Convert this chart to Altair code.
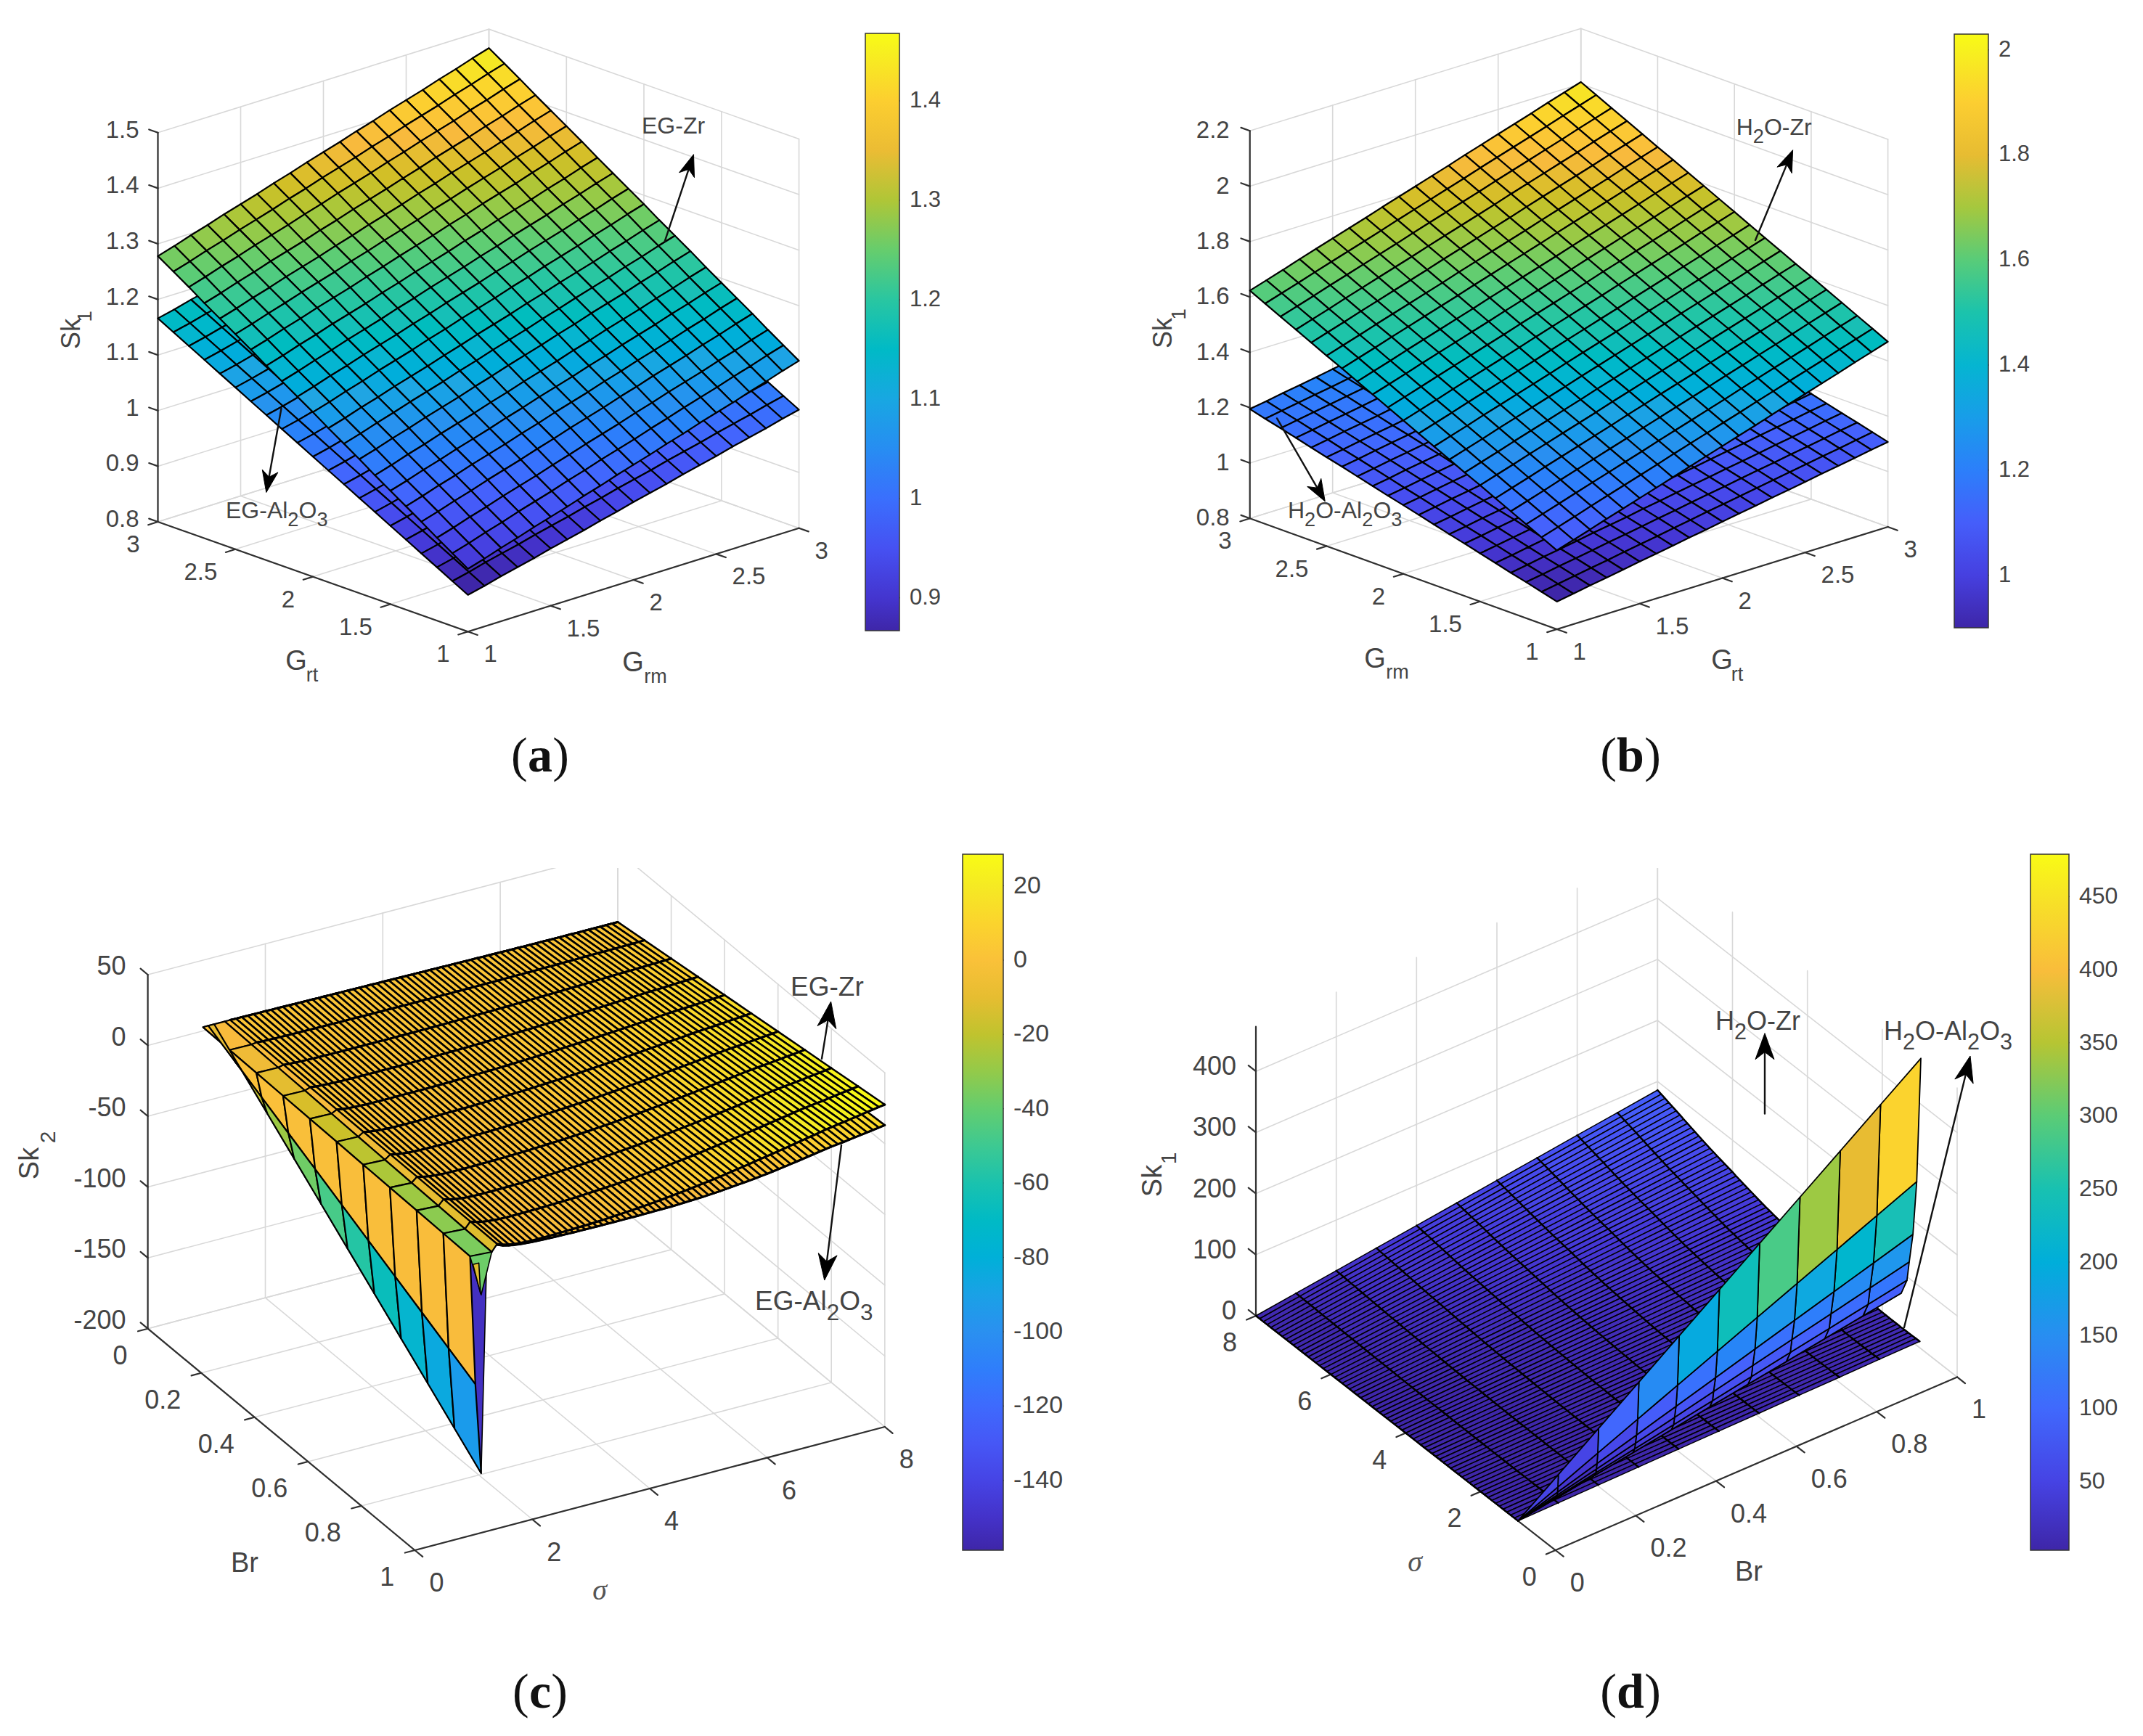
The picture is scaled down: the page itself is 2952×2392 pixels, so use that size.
import altair as alt

# ---------- colour map (MATLAB parula stops) ----------
PARULA_POS = [0, 4, 8, 12, 16, 20, 24, 28, 32, 36, 40, 44, 48, 52, 56, 60, 63]
PARULA = ["#3e26a8", "#4537d5", "#474df0", "#4563fd", "#327bfc", "#2b91ef", "#20a5e3", "#08b5d0", "#19bfb6",
          "#37c897", "#64cd6f", "#9dc943", "#d1bf27", "#f8ba3d", "#fccf30", "#f5e924", "#f9fb15"]

# ---------- panel (a) values ----------
A_ZR_GRT = [.913, .931, .949, .968, .986, 1.004, 1.022, 1.041, 1.059, 1.077, 1.096, 1.114, 1.132, 1.150, 1.169, 1.187, 1.205, 1.223, 1.242, 1.260, 1.278]
A_ZR_GRM = [.913, .922, .932, .941, .951, .960, .969, .979, .988, .998, 1.007, 1.016, 1.026, 1.035, 1.045, 1.054, 1.063, 1.073, 1.082, 1.092, 1.101]
A_AL_GRT = [.866, .881, .896, .911, .926, .941, .956, .971, .986, 1.001, 1.016, 1.031, 1.046, 1.061, 1.076, 1.091, 1.106, 1.121, 1.136, 1.151, 1.166]
A_AL_GRM = [.866, .873, .881, .888, .895, .903, .910, .917, .925, .932, .940, .947, .954, .962, .969, .976, .984, .991, .998, 1.006, 1.013]
# ---------- panel (b) values ----------
B_ZR_GRM = [1.085, 1.112, 1.139, 1.166, 1.193, 1.220, 1.246, 1.273, 1.300, 1.327, 1.354, 1.381, 1.408, 1.435, 1.462, 1.488, 1.515, 1.542, 1.569, 1.596, 1.623]
B_ZR_GRT = [1.085, 1.104, 1.123, 1.143, 1.162, 1.181, 1.200, 1.219, 1.239, 1.258, 1.277, 1.296, 1.315, 1.335, 1.354, 1.373, 1.392, 1.411, 1.431, 1.450, 1.469]
B_AL_GRM = [.900, .915, .930, .944, .959, .974, .989, 1.003, 1.018, 1.033, 1.048, 1.062, 1.077, 1.092, 1.107, 1.121, 1.136, 1.151, 1.166, 1.180, 1.195]
B_AL_GRT = [.900, .910, .921, .931, .941, .952, .962, .972, .983, .993, 1.004, 1.014, 1.024, 1.035, 1.045, 1.055, 1.066, 1.076, 1.086, 1.097, 1.107]
G_AXIS = [1.0, 1.1, 1.2, 1.3, 1.4, 1.5, 1.6, 1.7, 1.8, 1.9, 2.0, 2.1, 2.2, 2.3, 2.4, 2.5, 2.6, 2.7, 2.8, 2.9, 3.0]
BR_AXIS = [0, .1, .2, .3, .4, .5, .6, .7, .8, .9, 1.0]

# ---------- panel (c) values: sigma = 1.4 ... 8.0 ----------
C_SIGMA = [1.4, 1.5, 1.6, 1.7, 1.8, 1.9, 2.0, 2.1, 2.2, 2.3, 2.4, 2.5, 2.6, 2.7, 2.8, 2.9, 3.0, 3.1, 3.2, 3.3, 3.4, 3.5, 3.6, 3.7,
           3.8, 3.9, 4.0, 4.1, 4.2, 4.3, 4.4, 4.5, 4.6, 4.7, 4.8, 4.9, 5.0, 5.1, 5.2, 5.3, 5.4, 5.5, 5.6, 5.7, 5.8, 5.9, 6.0,
           6.1, 6.2, 6.3, 6.4, 6.5, 6.6, 6.7, 6.8, 6.9, 7.0, 7.1, 7.2, 7.3, 7.4, 7.5, 7.6, 7.7, 7.8, 7.9, 8.0]
C_ZR_BR1 = [1.0, -.5, -1.5, -2.2, -2.6, -2.9, -3.0, -3.0, -3.0, -2.9, -2.8, -2.7, -2.6, -2.5, -2.3, -2.2, -2.0,
            -1.8, -1.6, -1.3, -1.0, -.7, -.4, -.1, .3, .6, 1.0, 1.4, 1.8, 2.3, 2.8, 3.3, 3.8, 4.3, 4.9, 5.5, 6.0,
            6.7, 7.3, 8.0, 8.7, 9.4, 10.1, 10.8, 11.6, 12.3, 13.0, 13.8, 14.6, 15.3, 16.1, 16.9, 17.7, 18.5, 19.2, 20.1, 21.0,
            21.6, 22.3, 22.9, 23.5, 24.2, 24.9, 25.6, 26.2, 26.9, 27.6]
C_AL_BR1 = [.5, -1.2, -2.2, -2.9, -3.4, -3.8, -4.1, -4.3, -4.5, -4.6, -4.7, -4.8, -4.9, -5.0, -5.0, -5.1, -5.1,
            -5.2, -5.2, -5.2, -5.2, -5.2, -5.2, -5.2, -5.2, -5.1, -5.1, -5.0, -5.0, -4.9, -4.8, -4.7, -4.5, -4.3, -4.1, -3.9, -3.6,
            -3.3, -3.0, -2.6, -2.2, -1.8, -1.4, -1.0, -.5, 0, .5, 1.1, 1.7, 2.3, 3.0, 3.7, 4.4, 5.1, 5.8, 6.5, 7.2,
            7.8, 8.3, 8.8, 9.4, 10.0, 10.6, 11.2, 11.8, 12.4, 13.0]
C_BR0 = [2.7, 2.6, 2.6, 2.5, 2.5, 2.4, 2.4, 2.3, 2.3, 2.2, 2.2, 2.1, 2.1, 2.0, 2.0, 1.9, 1.9,
         1.8, 1.8, 1.7, 1.7, 1.6, 1.6, 1.5, 1.5, 1.4, 1.4, 1.3, 1.3, 1.2, 1.2, 1.1, 1.1, 1.0, 1.0, .9, .9,
         .8, .8, .7, .7, .6, .6, .5, .5, .4, .4, .3, .3, .3, .2, .2, .2, .2, .1, .1, .1,
         .1, .1, 0, 0, 0, 0, 0, 0, 0, 0]
# steep wall near sigma = 1 (value at Br = 1, from the tip up to the crease)
C_WALL_SIGMA = [1.13, 1.03, .94, 1.31, 1.4]
C_WALL_Z = [-158, -94, -2.7, -3.7, 1.0]
C_WALL_COLOR = [-94, -3, -35, -12]
C_BACK_SIGMA = [1.13, 1.22]
C_BACK_Z = [-158, -14.5]
C_BACK_COLOR = -152
# small folds hanging below the crease at Br = 1: (sigma, value) corners and colour value
C_FOLD_GREEN = [(.94, -2.7), (1.31, -3.7), (1.13, -32)]
C_FOLD_YELLOW = [(.99, -9), (1.09, -9), (1.12, -31)]
C_FOLD_COLORS = [-38, -12]

# ---------- panel (d) values ----------
D_SIGMA = [1.0, 1.1, 1.2, 1.3, 1.4, 1.5, 1.6, 1.7, 1.8, 1.9] + C_SIGMA[6:]
D_ZR_BR1 = [10.5, 10.3, 10.1, 10, 9.9, 9.8, 9.8, 9.8, 9.9, 10, 10.2,
            10.4, 10.7, 11, 11.3, 11.7, 12.1, 12.5, 12.9, 13.4, 14,
            14.6, 15.2, 15.9, 16.6, 17.3, 18, 18.8, 19.6, 20.4, 21.3,
            22.2, 23.1, 24.1, 25.1, 26.1, 27.2, 28.3, 29.4, 30.6, 31.8,
            33, 34.5, 36, 37.6, 39.2, 40.8, 42.4, 44.2, 46, 47.9,
            49.5, 51, 52.7, 54.4, 56, 57.8, 59.6, 61.6, 63.6, 65.6,
            67.6, 69.7, 71.8, 73.9, 76, 78, 80, 82, 84, 86]
D_WING_SIGMA = [.97, 1.08, 1.18, 1.28, 1.34, 1.49, 1.79, 2.4]
D_WING_BR1 = [475, 268, 177, 127, 94, 66, 41, 6]

W, H = 1468, 1188
SANS = "Liberation Sans"
SERIF = "Liberation Serif"
INK = "#444444"
GRID = "#d8d8d8"
AXIS = "#303030"

WIDTHS = {"E": .667, "G": .778, "-": .333, "Z": .611, "r": .333, "A": .667, "l": .222, "H": .722, "O": .778, "2": .556, "3": .556}


def stops(lo, hi):
    return [lo + p / 63 * (hi - lo) for p in PARULA_POS]


def poly(pts, **props):
    return {"type": "Feature", "geometry": {"type": "Polygon", "coordinates": [pts + [pts[0]]]}, "properties": props}


def line(pts, **props):
    return {"type": "Feature", "geometry": {"type": "LineString", "coordinates": pts}, "properties": props}


class Panel:
    def __init__(self, off, B, L, R, urange, vrange, zrange, zs, uticks, vticks, zticks, ulab, vlab, zlab, fs, bar, ctick, cfs):
        self.off, self.B, self.L, self.R = off, B, L, R
        self.urange, self.vrange, self.zrange, self.zs = urange, vrange, zrange, zs
        self.uticks, self.vticks, self.zticks = uticks, vticks, zticks
        self.ulab, self.vlab, self.zlab, self.fs = ulab, vlab, zlab, fs
        self.bar, self.ctick, self.cfs = bar, ctick, cfs
        self.layers = []
        self.texts = []

    def P(self, u, v, z):
        fu = (u - self.urange[0]) / (self.urange[1] - self.urange[0])
        fv = (v - self.vrange[0]) / (self.vrange[1] - self.vrange[0])
        x = self.B[0] + fu * (self.L[0] - self.B[0]) + fv * (self.R[0] - self.B[0])
        y = self.B[1] + fu * (self.L[1] - self.B[1]) + fv * (self.R[1] - self.B[1]) - (z - self.zrange[0]) * self.zs
        return [round(x - self.off[0], 1), round(y - self.off[1], 1)]

    def xy(self, x, y):
        return [round(x - self.off[0], 1), round(y - self.off[1], 1)]

    def text(self, x, y, t, fs, align="left", baseline="middle", angle=0, font=SANS, weight="normal", style="normal", color=INK):
        p = self.xy(x, y)
        self.texts.append(dict(px=p[0], py=p[1], t=t, fs=fs, align=align, baseline=baseline, angle=angle, font=font, weight=weight, style=style, color=color))

    def chem(self, x, y, parts, fs):
        base = y + .36 * fs
        for s, sub in parts:
            size = fs * (.85 if sub else 1)
            self.text(x, base + (.36 * fs if sub else 0), s, size, baseline="alphabetic")
            x += sum(WIDTHS[c] for c in s) * size

    def scale(self):
        lo, hi = self.bar["lo"], self.bar["hi"]
        return alt.Scale(domain=stops(lo, hi), range=PARULA, clamp=True, nice=False, zero=False)

    def add_lines(self, feats, color, width):
        self.layers.append(alt.Chart(alt.Data(values=feats)).mark_geoshape(filled=False, stroke=color, strokeWidth=width, strokeCap="round"))

    def add_cells(self, feats, width):
        self.legend_done = getattr(self, "legend_done", False)
        b = self.bar
        legend = None
        if not self.legend_done:
            p = self.xy(b["x"], b["top"])
            legend = alt.Legend(orient="none", legendX=p[0], legendY=p[1], title=None, type="gradient", direction="vertical",
                                values=self.ctick, gradientLength=b["bot"] - b["top"], gradientThickness=b["w"],
                                labelFontSize=self.cfs, labelFont=SANS, labelColor=INK, labelOffset=14, labelOverlap=False,
                                gradientStrokeColor="#333333", gradientStrokeWidth=1.5, labelExpr="'' + datum.value")
            self.legend_done = True
        self.layers.append(alt.Chart(alt.Data(values=feats)).mark_geoshape(stroke="black", strokeWidth=width, strokeJoin="round").encode(
            fill=alt.Fill("properties.v:Q", scale=self.scale(), legend=legend)))

    def add_heads(self, feats):
        self.layers.append(alt.Chart(alt.Data(values=feats)).mark_geoshape(fill="black", stroke="black", strokeWidth=1))

    def frame(self):
        u0, u1 = self.urange
        v0, v1 = self.vrange
        z0, z1 = self.zrange
        P = self.P
        g = []
        for z in self.zticks:
            g.append(line([P(u1, v0, z), P(u1, v1, z), P(u0, v1, z)]))
        for v in self.vticks:
            g.append(line([P(u0, v, z0), P(u1, v, z0), P(u1, v, z1)]))
        for u in self.uticks:
            g.append(line([P(u, v0, z0), P(u, v1, z0), P(u, v1, z1)]))
        self.add_lines(g, GRID, 1.6)
        ax = [line([P(u1, v0, z1), P(u1, v0, z0), P(u0, v0, z0), P(u0, v1, z0)])]
        ex, ey = self.L[0] - self.B[0], self.L[1] - self.B[1]
        fx, fy = self.R[0] - self.B[0], self.R[1] - self.B[1]
        en = (ex * ex + ey * ey) ** .5
        fn = (fx * fx + fy * fy) ** .5
        for z in self.zticks:
            a = P(u1, v0, z)
            ax.append(line([a, [a[0] + 13 * ex / en, a[1] + 13 * ey / en]]))
            self.text(a[0] + self.off[0] + self.zlab[0], a[1] + self.off[1] + self.zlab[1], f"{z:g}", self.fs, align="right")
        for u in self.uticks:
            a = P(u, v0, z0)
            ax.append(line([a, [a[0] - 14 * fx / fn, a[1] - 14 * fy / fn]]))
            self.text(a[0] + self.off[0] + self.ulab[0], a[1] + self.off[1] + self.ulab[1], f"{u:g}", self.fs, align="right")
        for v in self.vticks:
            a = P(u0, v, z0)
            ax.append(line([a, [a[0] - 14 * ex / en, a[1] - 14 * ey / en]]))
            self.text(a[0] + self.off[0] + self.vlab[0], a[1] + self.off[1] + self.vlab[1], f"{v:g}", self.fs, align="left")
        self.add_lines(ax, AXIS, 2.2)

    def arrow(self, x0, y0, x1, y1, hl=30, hw=11):
        a = self.xy(x0, y0)
        b = self.xy(x1, y1)
        dx, dy = b[0] - a[0], b[1] - a[1]
        n = (dx * dx + dy * dy) ** .5
        dx, dy = dx / n, dy / n
        base = [b[0] - hl * dx, b[1] - hl * dy]
        notch = [b[0] - .72 * hl * dx, b[1] - .72 * hl * dy]
        self.add_lines([line([a, notch])], "#111111", 2.4)
        self.add_heads([poly([b, [base[0] - hw * dy, base[1] + hw * dx], notch, [base[0] + hw * dy, base[1] - hw * dx]])])

    def finish(self):
        b = self.bar
        span = b["bot"] - b["top"]
        ticks = []
        for t in self.ctick:
            y = b["bot"] - (t - b["lo"]) / (b["hi"] - b["lo"]) * span
            ticks.append(line([self.xy(b["x"] + b["w"] - 7, y), self.xy(b["x"] + b["w"], y)]))
        self.add_lines(ticks, "#333333", 1.5)
        keys = {}
        for t in self.texts:
            keys.setdefault((t["align"], t["baseline"], t["angle"], t["font"], t["weight"], t["style"], t["color"]), []).append(t)
        for (al, bl, an, fo, we, st, co), rows in keys.items():
            self.layers.append(alt.Chart(alt.Data(values=[dict(px=r["px"], py=r["py"], t=r["t"], fs=r["fs"]) for r in rows])).mark_text(
                align=al, baseline=bl, angle=an, font=fo, fontWeight=we, fontStyle=st, color=co).encode(
                longitude=alt.Longitude("px:Q"), latitude=alt.Latitude("py:Q"), text=alt.Text("t:N"),
                size=alt.Size("fs:Q", scale=None)))
        return alt.layer(*[l.project(type="identity", scale=1, translate=[0, 0]) for l in self.layers]).properties(width=W, height=H)


def caption(p, cx, cy, letter, lw):
    fs = 68
    p.text(cx, cy, letter, fs, align="center", font=SERIF, weight="bold", color="#111111")
    p.text(cx - (lw / 2 + .17) * fs, cy, "(", fs, align="center", font=SERIF, color="#111111")
    p.text(cx + (lw / 2 + .17) * fs, cy, ")", fs, align="center", font=SERIF, color="#111111")


def plane_cells(p, e_u, e_v):
    out = []
    base = e_u[0]
    n = len(G_AXIS)
    for i in range(n - 2, -1, -1):
        for j in range(n - 2, -1, -1):
            z = lambda a, b: e_u[a] + e_v[b] - base
            out.append(poly([p.P(G_AXIS[i], G_AXIS[j], z(i, j)), p.P(G_AXIS[i + 1], G_AXIS[j], z(i + 1, j)),
                             p.P(G_AXIS[i + 1], G_AXIS[j + 1], z(i + 1, j + 1)), p.P(G_AXIS[i], G_AXIS[j + 1], z(i, j + 1))],
                            v=round(z(i, j), 4)))
    return out


# ===== panel a =====
OFF_A = (8, 8)
pa = Panel(OFF_A, (644.6, 870.3), (217.5, 719), (1100.6, 727.7), (1, 3), (1, 3), (.8, 1.5), 766,
           [1, 1.5, 2, 2.5, 3], [1, 1.5, 2, 2.5, 3], [.8, .9, 1, 1.1, 1.2, 1.3, 1.4, 1.5],
           (-25, 32), (22, 32), (-26, -3), 33,
           dict(x=1192, top=46, bot=869, w=47, lo=.867, hi=1.468), [.9, 1, 1.1, 1.2, 1.3, 1.4], 31)
pa.frame()
pa.add_cells(plane_cells(pa, A_AL_GRT, A_AL_GRM) + plane_cells(pa, A_ZR_GRT, A_ZR_GRM), 2.2)
pa.arrow(915.7, 332.6, 955.5, 212.7)
pa.arrow(387.5, 562.8, 366.8, 678.5)
pa.chem(884, 172, [("EG-Zr", 0)], 32)
pa.chem(311, 702, [("EG-Al", 0), ("2", 1), ("O", 0), ("3", 1)], 32)
pa.text(99, 460, "Sk", 36, align="center", angle=270)
pa.text(118, 436, "1", 28, align="center", angle=270)
pa.text(408, 912, "G", 38, align="center")
pa.text(430, 931, "rt", 27, align="center")
pa.text(872, 914, "G", 38, align="center")
pa.text(903, 933, "rm", 27, align="center")
caption(pa, 744, 1043, "a", .5)

# ===== panel b =====
OFF_B = (8 + W, 8)
pb = Panel(OFF_B, (2144.6, 867), (1721.7, 714.3), (2600.6, 726), (1, 3), (1, 3), (.8, 2.2), 381.4,
           [1, 1.5, 2, 2.5, 3], [1, 1.5, 2, 2.5, 3], [.8, 1, 1.2, 1.4, 1.6, 1.8, 2, 2.2],
           (-25, 32), (22, 32), (-28, 0), 33,
           dict(x=2692, top=47, bot=865, w=47, lo=.90, hi=2.03), [1, 1.2, 1.4, 1.6, 1.8, 2], 31)
pb.frame()
pb.add_cells(plane_cells(pb, B_AL_GRM, B_AL_GRT) + plane_cells(pb, B_ZR_GRM, B_ZR_GRT), 2.2)
pb.arrow(2418, 331, 2469.6, 206.7)
pb.arrow(1759, 576.4, 1825.3, 690.9)
pb.chem(2391.7, 174, [("H", 0), ("2", 1), ("O-Zr", 0)], 32)
pb.chem(1774, 702, [("H", 0), ("2", 1), ("O-Al", 0), ("2", 1), ("O", 0), ("3", 1)], 32)
pb.text(1603, 459, "Sk", 36, align="center", angle=270)
pb.text(1625, 433, "1", 28, align="center", angle=270)
pb.text(1894, 909, "G", 38, align="center")
pb.text(1925, 927, "rm", 27, align="center")
pb.text(2372, 911, "G", 38, align="center")
pb.text(2393, 930, "rt", 27, align="center")
caption(pb, 2246, 1043, "b", .556)

# ===== panel c =====
OFF_C = (8, 8 + H)
pc = Panel(OFF_C, (571.4, 2136), (203.6, 1830.7), (1218.8, 1966), (1, 0), (0, 8), (-200, 50), 1.951,
           [0, .2, .4, .6, .8, 1], [0, 2, 4, 6, 8], [-200, -150, -100, -50, 0, 50],
           (-28, 38), (20, 46), (-30, -11), 36,
           dict(x=1326, top=1177, bot=2136, w=56, lo=-158.8, hi=28.5), [-140, -120, -100, -80, -60, -40, -20, 0, 20], 34)
pc.frame()


def dense_c(p, z1):
    out = []
    for k in range(len(C_SIGMA) - 2, -1, -1):
        for j in range(10):
            a, b = BR_AXIS[j], BR_AXIS[j + 1]
            z = lambda kk, br: C_BR0[kk] * (1 - br) + z1[kk] * br
            out.append(poly([p.P(a, C_SIGMA[k], z(k, a)), p.P(b, C_SIGMA[k], z(k, b)),
                             p.P(b, C_SIGMA[k + 1], z(k + 1, b)), p.P(a, C_SIGMA[k + 1], z(k + 1, a))], v=round(z(k + 1, b), 2)))
    return out


def br_lines_c(p, z1):
    out = []
    for br in BR_AXIS:
        out.append(line([p.P(br, s, z0 * (1 - br) + z * br) for s, z0, z in zip(C_SIGMA, C_BR0, z1)]))
    return out


def wall_cells(p, sig, zed, colors):
    out = []
    z0 = C_BR0[0]
    for r in range(len(sig) - 2, -1, -1):
        for j in range(10):
            a, b = BR_AXIS[j], BR_AXIS[j + 1]
            za = lambda rr, br: z0 * (1 - br) + zed[rr] * br
            out.append(poly([p.P(a, sig[r], za(r, a)), p.P(b, sig[r], za(r, b)),
                             p.P(b, sig[r + 1], za(r + 1, b)), p.P(a, sig[r + 1], za(r + 1, a))], v=round(colors[r] * b, 2)))
    return out


pc.add_cells(dense_c(pc, C_AL_BR1), 2.6)
pc.add_lines(br_lines_c(pc, C_AL_BR1), "black", 3.0)
pc.add_cells(dense_c(pc, C_ZR_BR1), 2.6)
pc.add_lines(br_lines_c(pc, C_ZR_BR1), "black", 3.0)
pc.add_cells(wall_cells(pc, C_BACK_SIGMA, C_BACK_Z, [C_BACK_COLOR]), 1.6)
pc.add_cells(wall_cells(pc, C_WALL_SIGMA, C_WALL_Z, C_WALL_COLOR), 2.2)
pc.add_cells([poly([pc.P(1, s, z) for s, z in fold], v=c) for fold, c in zip([C_FOLD_GREEN, C_FOLD_YELLOW], C_FOLD_COLORS)], 1.6)
pc.arrow(1132, 1458.8, 1144.6, 1380, hl=36, hw=13)
pc.arrow(1159, 1578, 1135.7, 1764, hl=36, hw=13)
pc.chem(1089, 1359, [("EG-Zr", 0)], 37)
pc.chem(1040, 1792, [("EG-Al", 0), ("2", 1), ("O", 0), ("3", 1)], 37)
pc.text(42, 1603, "Sk", 38, align="center", angle=270)
pc.text(67, 1567, "2", 30, align="center", angle=270)
pc.text(337, 2155, "Br", 38, align="center")
pc.text(826, 2192, "\u03c3", 40, align="center", font=SERIF, style="italic", color="#555555")
caption(pc, 744, 2333, "c", .444)

# ===== panel d =====
OFF_D = (8 + W, 8 + H)
pd_ = Panel(OFF_D, (2142.7, 2136), (1730, 1813), (2696, 1897.4), (0, 8), (0, 1), (0, 473), .842,
            [0, 2, 4, 6, 8], [0, .2, .4, .6, .8, 1], [0, 100, 200, 300, 400],
            (-26, 38), (20, 46), (-27, -6), 36,
            dict(x=2797, top=1177, bot=2136, w=53, lo=2.8, hi=479), [50, 100, 150, 200, 250, 300, 350, 400, 450], 32)
pd_.frame()


def sheet(p):
    out = []
    for k in range(len(D_SIGMA) - 2, -1, -1):
        for j in range(9, -1, -1):
            a, b = BR_AXIS[j], BR_AXIS[j + 1]
            z1, z2 = D_ZR_BR1[k], D_ZR_BR1[k + 1]
            out.append(poly([p.P(D_SIGMA[k], a, z1 * a), p.P(D_SIGMA[k], b, z1 * b),
                             p.P(D_SIGMA[k + 1], b, z2 * b), p.P(D_SIGMA[k + 1], a, z2 * a)], v=round(max(z2 * b, 3), 2)))
    return out


def sheet_lines(p):
    return [line([p.P(s, br, z * br) for s, z in zip(D_SIGMA, D_ZR_BR1)]) for br in BR_AXIS]


def wing(p):
    # the rows fan out from the front tip: their sigma offset grows with Br
    out = []
    for r in range(len(D_WING_SIGMA) - 2, -1, -1):
        for j in range(9, -1, -1):
            a, b = BR_AXIS[j], BR_AXIS[j + 1]
            s1, s2 = D_WING_SIGMA[r] - 1, D_WING_SIGMA[r + 1] - 1
            z1, z2 = D_WING_BR1[r], D_WING_BR1[r + 1]
            out.append(poly([p.P(1 + s1 * a, a, z1 * a), p.P(1 + s1 * b, b, z1 * b),
                             p.P(1 + s2 * b, b, z2 * b), p.P(1 + s2 * a, a, z2 * a)], v=round(z1 * max(a, .1) + 3, 2)))
    return out


pd_.add_cells(sheet(pd_), 1.5)
pd_.add_lines(sheet_lines(pd_), "black", 2.4)
pd_.add_cells(wing(pd_), 1.8)
pd_.arrow(2431, 1534.6, 2431, 1423.7, hl=36, hw=13)
pd_.arrow(2623, 1829, 2714, 1455, hl=36, hw=13)
pd_.chem(2363, 1406, [("H", 0), ("2", 1), ("O-Zr", 0)], 36)
pd_.chem(2595, 1420, [("H", 0), ("2", 1), ("O-Al", 0), ("2", 1), ("O", 0), ("3", 1)], 36)
pd_.text(1589, 1627, "Sk", 38, align="center", angle=270)
pd_.text(1611, 1596, "1", 30, align="center", angle=270)
pd_.text(2409, 2167, "Br", 38, align="center")
pd_.text(1949, 2153, "\u03c3", 40, align="center", font=SERIF, style="italic", color="#555555")
caption(pd_, 2246, 2333, "d", .556)

chart = alt.concat(pa.finish(), pb.finish(), pc.finish(), pd_.finish(), columns=2, spacing=0, bounds="flush").properties(
    padding=0, background="white").configure_view(stroke=None).resolve_scale(fill="independent").resolve_legend(fill="independent")
chart.save("out.html", embed_options={"renderer": "svg", "actions": False})
